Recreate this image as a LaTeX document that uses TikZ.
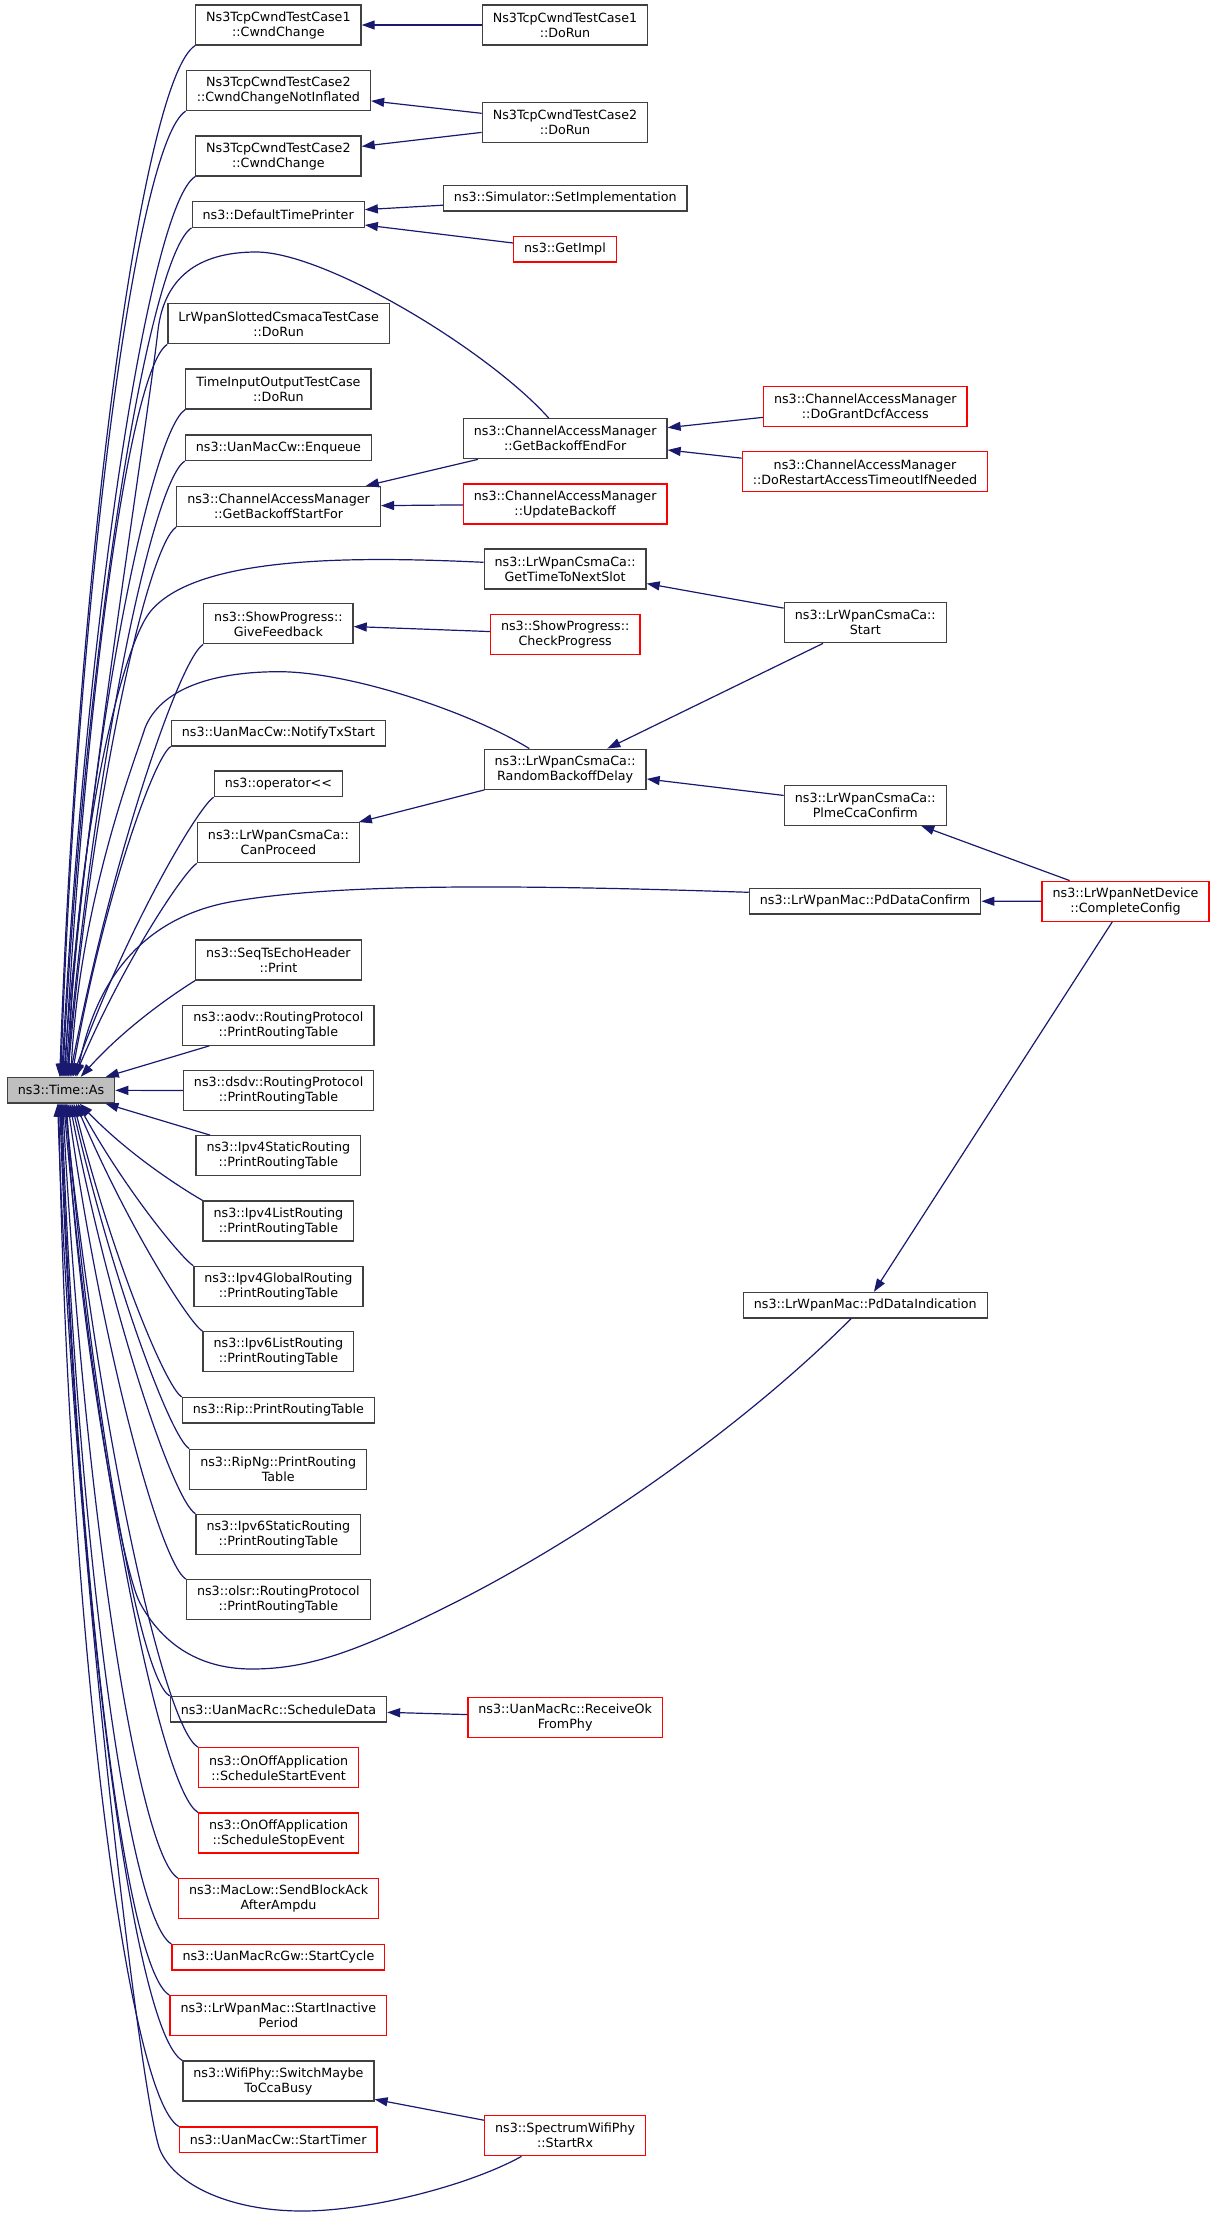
\documentclass[tikz,border=0pt]{standalone}
\usepackage{fontspec}
\setmainfont{DejaVu Sans}
\usetikzlibrary{arrows.meta}
\definecolor{edgeblue}{HTML}{191970}
\definecolor{fngray}{HTML}{BFBFBF}

\begin{document}
\begin{tikzpicture}[x=1pt, y=1pt, fn/.style={draw=black!75, line width=1.3pt, fill=white,
inner xsep=10.5pt, inner ysep=2pt, minimum height=25.5pt, align=center, font=\fontsize{12.7}{15}\selectfont},
two/.style={minimum height=40pt}, miss/.style={draw=red},
edge/.style={draw=edgeblue, line width=1.2pt, -{Triangle[length=13pt, width=9pt]}}]
\fill[white] (0,0) rectangle (1216,-2217);
\useasboundingbox (0,0) rectangle (1216,-2217);
\node[fn, fill=fngray] (as) at (61,-1090.2) {ns3::Time::As};
\node[fn, two] (cw1) at (278.4,-25) {Ns3TcpCwndTestCase1\\::CwndChange};
\node[fn, two] (dr1) at (565,-25) {Ns3TcpCwndTestCase1\\::DoRun};
\node[fn, two] (cwni) at (278.4,-90.5) {Ns3TcpCwndTestCase2\\::CwndChangeNotInflated};
\node[fn, two] (dr2) at (565,-122.7) {Ns3TcpCwndTestCase2\\::DoRun};
\node[fn, two] (cw2) at (278.4,-156) {Ns3TcpCwndTestCase2\\::CwndChange};
\node[fn] (dtp) at (278.2,-214.5) {ns3::DefaultTimePrinter};
\node[fn] (simp) at (565.3,-198.3) {ns3::Simulator::SetImplementation};
\node[fn, miss] (gimp) at (565,-249.3) {ns3::GetImpl};
\node[fn, two] (lrs) at (278.6,-323.8) {LrWpanSlottedCsmacaTestCase\\::DoRun};
\node[fn, two] (tio) at (278.4,-389) {TimeInputOutputTestCase\\::DoRun};
\node[fn] (enq) at (278.4,-447.7) {ns3::UanMacCw::Enqueue};
\node[fn, two] (gbs) at (278.6,-506.5) {ns3::ChannelAccessManager\\::GetBackoffStartFor};
\node[fn, two] (gbe) at (565.2,-438.7) {ns3::ChannelAccessManager\\::GetBackoffEndFor};
\node[fn, two, miss] (upd) at (565.2,-504) {ns3::ChannelAccessManager\\::UpdateBackoff};
\node[fn, two] (gtn) at (565.1,-569) {ns3::LrWpanCsmaCa::\\GetTimeToNextSlot};
\node[fn, two] (gfb) at (278.4,-623.8) {ns3::ShowProgress::\\GiveFeedback};
\node[fn, two, miss] (cpg) at (565.2,-634.3) {ns3::ShowProgress::\\CheckProgress};
\node[fn, two, miss] (dgd) at (865.3,-406.3) {ns3::ChannelAccessManager\\::DoGrantDcfAccess};
\node[fn, two, miss] (dra) at (865,-471.8) {ns3::ChannelAccessManager\\::DoRestartAccessTimeoutIfNeeded};
\node[fn, two] (start) at (865.3,-622.7) {ns3::LrWpanCsmaCa::\\Start};
\node[fn] (ntx) at (278.4,-733.2) {ns3::UanMacCw::NotifyTxStart};
\node[fn] (opl) at (278.4,-783.8) {ns3::operator\mbox{<}\mbox{<}};
\node[fn, two] (cpr) at (278.4,-842.7) {ns3::LrWpanCsmaCa::\\CanProceed};
\node[fn, two] (rbd) at (565.1,-769.2) {ns3::LrWpanCsmaCa::\\RandomBackoffDelay};
\node[fn, two] (pcc) at (865.3,-805.2) {ns3::LrWpanCsmaCa::\\PlmeCcaConfirm};
\node[fn] (pdc) at (865.1,-901.3) {ns3::LrWpanMac::PdDataConfirm};
\node[fn, two, miss] (cc) at (1125.5,-901.2) {ns3::LrWpanNetDevice\\::CompleteConfig};
\node[fn, two] (seq) at (278.4,-960) {ns3::SeqTsEchoHeader\\::Print};
\node[fn, two] (aodv) at (278.4,-1025.2) {ns3::aodv::RoutingProtocol\\::PrintRoutingTable};
\node[fn, two] (dsdv) at (278.6,-1090.7) {ns3::dsdv::RoutingProtocol\\::PrintRoutingTable};
\node[fn, two] (v4s) at (278.4,-1155.7) {ns3::Ipv4StaticRouting\\::PrintRoutingTable};
\node[fn, two] (v4l) at (278.4,-1221) {ns3::Ipv4ListRouting\\::PrintRoutingTable};
\node[fn, two] (v4g) at (278.4,-1286.3) {ns3::Ipv4GlobalRouting\\::PrintRoutingTable};
\node[fn, two] (v6l) at (278.4,-1351.7) {ns3::Ipv6ListRouting\\::PrintRoutingTable};
\node[fn] (rip) at (278.4,-1410.3) {ns3::Rip::PrintRoutingTable};
\node[fn, two] (ripng) at (278.2,-1469.2) {ns3::RipNg::PrintRouting\\Table};
\node[fn] (pdi) at (865.3,-1305.2) {ns3::LrWpanMac::PdDataIndication};
\node[fn, two] (v6s) at (278.4,-1534.3) {ns3::Ipv6StaticRouting\\::PrintRoutingTable};
\node[fn, two] (olsr) at (278.4,-1599.7) {ns3::olsr::RoutingProtocol\\::PrintRoutingTable};
\node[fn] (sd) at (278.4,-1709.3) {ns3::UanMacRc::ScheduleData};
\node[fn, two, miss] (rok) at (565.2,-1717.3) {ns3::UanMacRc::ReceiveOk\\FromPhy};
\node[fn, two, miss] (sse) at (278.6,-1767.8) {ns3::OnOffApplication\\::ScheduleStartEvent};
\node[fn, two, miss] (sst) at (278.6,-1833) {ns3::OnOffApplication\\::ScheduleStopEvent};
\node[fn, two, miss] (mlb) at (278.6,-1898.7) {ns3::MacLow::SendBlockAck\\AfterAmpdu};
\node[fn, miss] (ucy) at (278.4,-1957.3) {ns3::UanMacRcGw::StartCycle};
\node[fn, two, miss] (lsi) at (278.4,-2015.7) {ns3::LrWpanMac::StartInactive\\Period};
\node[fn, two] (wsw) at (278.4,-2081) {ns3::WifiPhy::SwitchMaybe\\ToCcaBusy};
\node[fn, miss] (ust) at (278.2,-2139.8) {ns3::UanMacCw::StartTimer};
\node[fn, two, miss] (srx) at (565.1,-2135.7) {ns3::SpectrumWifiPhy\\::StartRx};
\foreach \s/\t in {dr1/cw1, dr2/cwni, dr2/cw2, simp/dtp, gimp/dtp, dgd/gbe, dra/gbe, gbe/gbs, upd/gbs,
start/gtn, cpg/gfb, start/rbd, pcc/rbd, rbd/cpr, cc/pcc, cc/pdc, cc/pdi, rok/sd, srx/wsw,
aodv/as, dsdv/as, v4s/as}{
\draw[edge] (\s) -- (\t);}
\foreach \n/\e/\a/\o/\i in {cw1/53/88/61/530, cwni/54/88/57/496, cw2/55/87/53/464, dtp/56/87/50/438,
lrs/58/87/44/377, tio/59/86/40/345, enq/60/85/37/320, gbs/61/85/33/286, gfb/63/79/27/231,
ntx/65/80/20/176, opl/66/70/18/160, cpr/68/67/15/126, seq/74/48/9/76}{
\draw[edge] (\n.south west) .. controls ([shift={(212:\o)}]\n.south west)
 and ([xshift=\e pt, shift={(\a:\i)}]as.north west) .. ([xshift=\e pt]as.north west);}
\foreach \n/\e/\a/\o/\i in {v4l/73/-46/9/80, v4g/71/-61/12/101, v6l/69/-67/15/133, rip/67/-76/18/160,
ripng/65/-77/21/186, v6s/63/-79/25/219, olsr/61/-82/29/250, sd/59/-85/35/307, sse/58/-84/39/335,
sst/57/-85/42/368, mlb/56/-87/46/399, ucy/55/-88/50/432, lsi/54/-88/53/458, wsw/53/-88/57/492,
ust/52/-89/60/525}{
\draw[edge] (\n.north west) .. controls ([shift={(150:\o)}]\n.north west)
 and ([xshift=\e pt, shift={(\a:\i)}]as.south west) .. ([xshift=\e pt]as.south west);}
\draw[edge] ([xshift=-16.5pt]gbe.north) .. controls (488.7,-350.7) and (326,-252) .. (256,-252)
 .. controls (205,-252) and (165,-272) .. (158,-330) .. controls (148,-420) and (80,-850) .. ([xshift=57pt]as.north west);
\draw[edge] ([yshift=6.7pt]gtn.west) .. controls (350,-556) and (195,-556) .. (150,-612)
 .. controls (120,-650) and (74,-850) .. ([xshift=62pt]as.north west);
\draw[edge] ([xshift=-35.8pt]rbd.north) .. controls (470,-712) and (350,-671.7) .. (279,-671.7)
 .. controls (210,-671.7) and (160,-690) .. (145,-728) .. controls (135,-760) and (80,-900) .. ([xshift=64pt]as.north west);
\draw[edge] ([yshift=9pt]pdc.west) .. controls (500,-884) and (330,-884) .. (230,-902)
 .. controls (160,-915) and (100,-960) .. ([xshift=70pt]as.north west);
\draw[edge] ([xshift=-14.2pt]pdi.south) .. controls (740,-1430) and (580,-1540) .. (450,-1605)
 .. controls (360,-1650) and (310,-1669) .. (252,-1669) .. controls (195,-1669) and (160,-1640) .. (140,-1603)
 .. controls (120,-1565) and (75,-1300) .. ([xshift=60pt]as.south west);
\draw[edge] ([xshift=-43.6pt]srx.south) .. controls (470,-2185) and (370,-2211) .. (302.4,-2211)
 .. controls (230,-2211) and (175,-2185) .. (160,-2150) .. controls (140,-2100) and (70,-1500) .. ([xshift=51pt]as.south west);
\end{tikzpicture}
\end{document}
